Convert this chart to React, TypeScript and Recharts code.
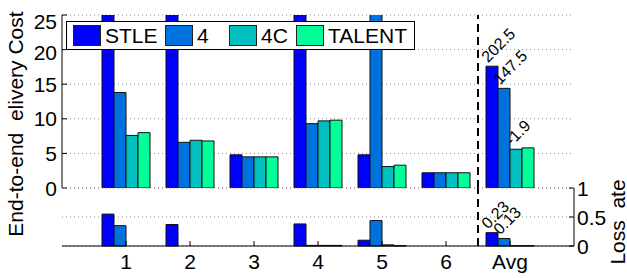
import {
  Bar,
  BarChart,
  CartesianGrid,
  LabelList,
  ReferenceLine,
  XAxis,
  YAxis,
} from "recharts";

const FONT = "'Liberation Sans', Arimo, Helvetica, Arial, sans-serif";

const groups = ["1", "2", "3", "4", "5", "6", "Avg"];
const seriesNames = ["STLE", "4", "4C", "TALENT"];
const seriesColors = ["#0000ff", "#0072dd", "#00bfbf", "#00ff99"];

// delivery cost (bars above 25 run off the top of the panel)
const costSTLE = [40, 40, 4.8, 40, 4.8, 2.2, 17.6];
const cost4 = [13.8, 6.6, 4.5, 9.3, 40, 2.2, 14.4];
const cost4C = [7.6, 6.9, 4.5, 9.7, 3.1, 2.2, 5.6];
const costTALENT = [8.0, 6.8, 4.5, 9.8, 3.3, 2.2, 5.8];
const costAvgLabels = ["202.5", "147.5", "-1.9", ""];
const costTicks = [0, 5, 10, 15, 20, 25];

// loss rate
const lossSTLE = [0.55, 0.37, 0, 0.38, 0.1, 0, 0.23];
const loss4 = [0.35, 0, 0, 0.01, 0.44, 0, 0.13];
const loss4C = [0, 0, 0, 0.01, 0.02, 0, 0.005];
const lossTALENT = [0, 0, 0, 0.01, 0.005, 0, 0.005];
const lossAvgLabels = ["0.23", "0.13", "", ""];
const lossTicks = [0, 0.5, 1];

const costCols = [costSTLE, cost4, cost4C, costTALENT];
const lossCols = [lossSTLE, loss4, loss4C, lossTALENT];

function buildRows(cols: number[][], avgLabels: string[]) {
  return groups.map((g, i) => {
    const row: Record<string, string | number> = { group: g };
    seriesNames.forEach((s, k) => {
      row[s] = cols[k][i];
      row[s + "_lab"] = i === groups.length - 1 ? avgLabels[k] : "";
    });
    return row;
  });
}

const costData = buildRows(costCols, costAvgLabels);
const lossData = buildRows(lossCols, lossAvgLabels);

// the top two labels sit a little low in the original
const labelNudge: Record<string, number> = { "25": 6, "20": 3 };

const LeftTick = (p: any) => (
  <g>
    <line x1={p.x} x2={p.x + 5} y1={p.y} y2={p.y} stroke="#000" />
    <text
      x={p.x - 5}
      y={p.y + (labelNudge[String(p.payload.value)] || 0)}
      dy="0.36em"
      textAnchor="end"
      fontSize={21}
      fontFamily={FONT}
      fill="#000"
    >
      {p.payload.value}
    </text>
  </g>
);

const InwardLeft = (p: any) => <line x1={p.x} x2={p.x + 5} y1={p.y} y2={p.y} stroke="#000" />;
const InwardRight = (p: any) => <line x1={p.x} x2={p.x - 5} y1={p.y} y2={p.y} stroke="#000" />;
const InwardDown = (p: any) => <line x1={p.x} x2={p.x} y1={p.y} y2={p.y + 5} stroke="#000" />;

const RightTick = (p: any) => (
  <g>
    <line x1={p.x} x2={p.x - 5} y1={p.y} y2={p.y} stroke="#000" />
    <text x={p.x + 3} y={p.y} dy="0.36em" textAnchor="start" fontSize={21} fontFamily={FONT} fill="#000">
      {p.payload.value}
    </text>
  </g>
);

const BottomTick = (p: any) => (
  <g>
    <line x1={p.x} x2={p.x} y1={p.y} y2={p.y - 5} stroke="#000" />
    <text x={p.x} y={p.y + 8} dy="0.71em" textAnchor="middle" fontSize={21} fontFamily={FONT} fill="#000">
      {p.payload.value}
    </text>
  </g>
);

const tilted = (p: any) => {
  if (!p.value) return null;
  const x = Number(p.x) + 2;
  const y = Number(p.y) - 3;
  return (
    <text x={x} y={y} transform={`rotate(-45 ${x} ${y})`} fontSize={16} fontFamily={FONT} fill="#000">
      {p.value}
    </text>
  );
};

function Legend() {
  const widths = [92, 64, 67, 116];
  return (
    <div
      style={{
        position: "absolute",
        left: 66,
        top: 21,
        width: 349,
        height: 29,
        boxSizing: "border-box",
        border: "1px solid #000",
        background: "#fff",
        display: "flex",
        alignItems: "center",
        paddingLeft: 6,
        fontFamily: FONT,
        fontSize: 21,
        lineHeight: 1,
      }}
    >
      {seriesNames.map((s, k) => (
        <div key={s} style={{ width: widths[k], display: "flex", alignItems: "center" }}>
          <span
            style={{
              width: 28,
              height: 21,
              boxSizing: "border-box",
              border: "1px solid #222",
              background: seriesColors[k],
              marginRight: 4,
            }}
          />
          <span>{s}</span>
        </div>
      ))}
    </div>
  );
}

export default function App() {
  return (
    <div
      style={{
        position: "absolute",
        left: 0,
        top: 0,
        width: 627,
        height: 278,
        background: "#fff",
        overflow: "hidden",
        fontFamily: FONT,
      }}
    >
      <div style={{ position: "absolute", left: 0, top: 0 }}>
        <BarChart
          width={627}
          height={202}
          data={costData}
          margin={{ top: 15, right: 53, bottom: 14, left: 22 }}
          barGap={0}
          barCategoryGap={8}
        >
          <CartesianGrid vertical={false} stroke="#888" strokeDasharray="1 3" />
          <XAxis dataKey="group" height={0} tick={false} tickLine={false} axisLine={{ stroke: "#000" }} padding={{ left: 32, right: 32 }} />
          <XAxis xAxisId="t" dataKey="group" orientation="top" height={0} tick={false} tickLine={false} axisLine={{ stroke: "#000" }} padding={{ left: 32, right: 32 }} />
          <YAxis
            domain={[0, 25]}
            ticks={costTicks}
            interval={0}
            allowDataOverflow
            width={40}
            tickSize={0}
            tickMargin={0}
            tickLine={false}
            axisLine={{ stroke: "#000" }}
            tick={LeftTick}
          />
          <YAxis
            yAxisId="r"
            orientation="right"
            domain={[0, 25]}
            ticks={costTicks}
            interval={0}
            width={0}
            tickSize={0}
            tickMargin={0}
            tickLine={false}
            axisLine={{ stroke: "#000" }}
            tick={InwardRight}
          />
          {seriesNames.map((s, k) => (
            <Bar key={s} dataKey={s} fill={seriesColors[k]} stroke="#111" strokeWidth={1} isAnimationActive={false}>
              <LabelList dataKey={s + "_lab"} content={tilted} />
            </Bar>
          ))}
          <ReferenceLine x="Avg" position="start" stroke="#000" strokeWidth={2} strokeDasharray="8 5" />
        </BarChart>
      </div>
      <div style={{ position: "absolute", left: 0, top: 167 }}>
        <BarChart
          width={627}
          height={111}
          data={lossData}
          margin={{ top: 21, right: 0, bottom: 0, left: 62 }}
          barGap={0}
          barCategoryGap={8}
        >
          <CartesianGrid vertical={false} stroke="#888" strokeDasharray="1 3" />
          <XAxis
            dataKey="group"
            height={32}
            tickSize={0}
            tickMargin={0}
            tickLine={false}
            axisLine={{ stroke: "#000" }}
            tick={BottomTick}
            interval={0}
            padding={{ left: 32, right: 32 }}
          />
          <XAxis
            xAxisId="t"
            dataKey="group"
            orientation="top"
            height={0}
            tickSize={0}
            tickMargin={0}
            tickLine={false}
            axisLine={{ stroke: "#000" }}
            tick={InwardDown}
            interval={0}
            padding={{ left: 32, right: 32 }}
          />
          <YAxis
            orientation="right"
            domain={[0, 1]}
            ticks={lossTicks}
            interval={0}
            width={53}
            tickSize={0}
            tickMargin={0}
            tickLine={false}
            axisLine={{ stroke: "#000" }}
            tick={RightTick}
          />
          <YAxis
            yAxisId="l"
            orientation="left"
            domain={[0, 1]}
            ticks={lossTicks}
            interval={0}
            width={0}
            tickSize={0}
            tickMargin={0}
            tickLine={false}
            axisLine={{ stroke: "#000" }}
            tick={InwardLeft}
          />
          {seriesNames.map((s, k) => (
            <Bar key={s} dataKey={s} fill={seriesColors[k]} stroke="#111" strokeWidth={1} isAnimationActive={false}>
              <LabelList dataKey={s + "_lab"} content={tilted} />
            </Bar>
          ))}
          <ReferenceLine x="Avg" position="start" stroke="#000" strokeWidth={2} strokeDasharray="8 5" />
        </BarChart>
      </div>
      <Legend />
      <div
        style={{
          position: "absolute",
          left: 15,
          top: 124,
          transform: "translate(-50%, -50%) rotate(-90deg)",
          whiteSpace: "pre",
          fontSize: 21,
          lineHeight: 1,
        }}
      >
        {"End-to-end  elivery Cost"}
      </div>
      <div
        style={{
          position: "absolute",
          left: 617,
          top: 222,
          transform: "translate(-50%, -50%) rotate(-90deg)",
          whiteSpace: "pre",
          fontSize: 21,
          lineHeight: 1,
        }}
      >
        {"Loss  ate"}
      </div>
    </div>
  );
}
